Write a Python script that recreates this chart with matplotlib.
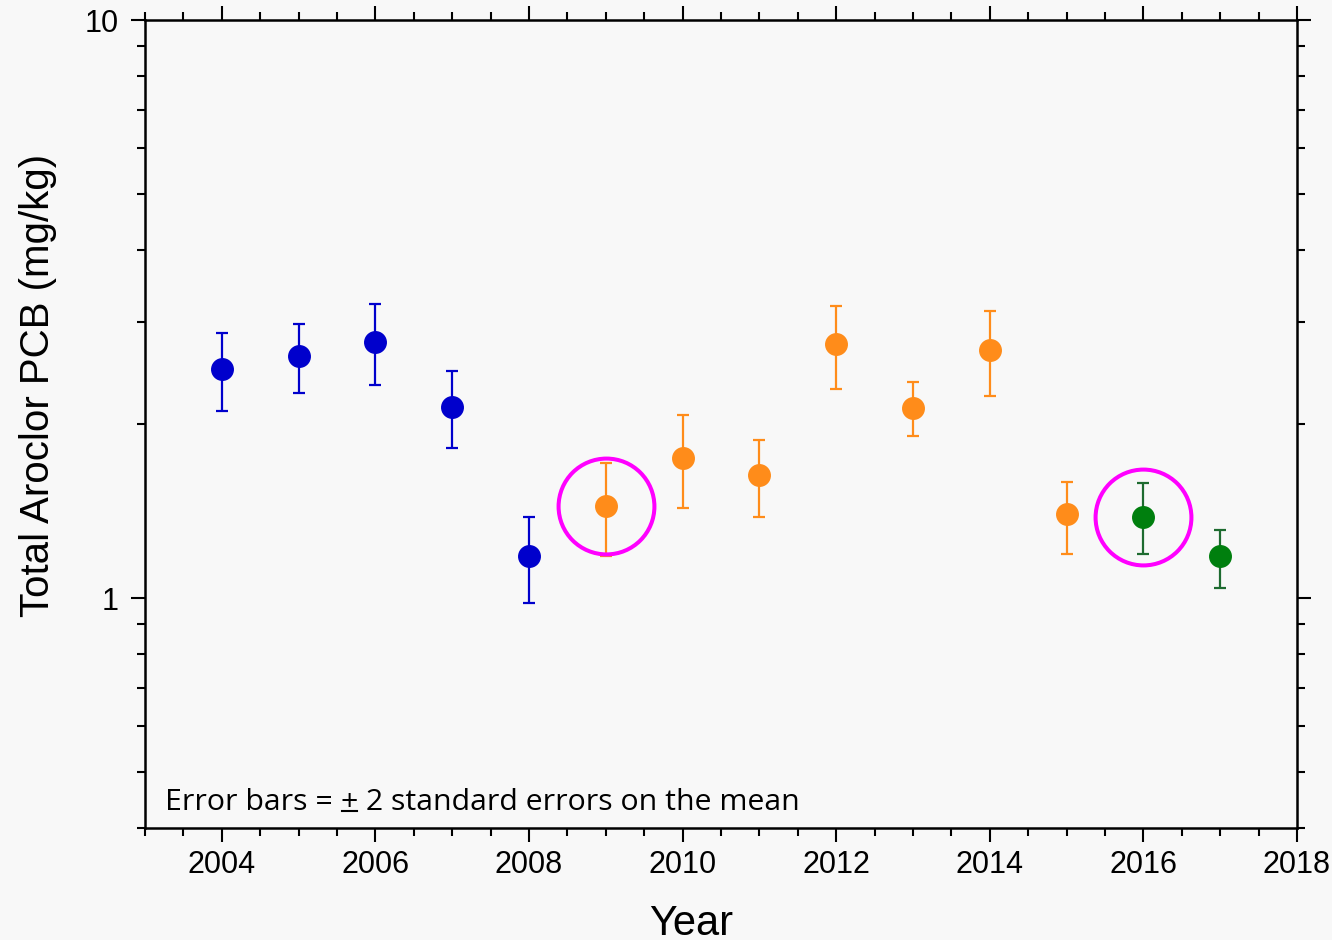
import matplotlib
matplotlib.use("Agg")
import matplotlib.pyplot as plt
from matplotlib.ticker import FixedLocator, NullFormatter, LogLocator
from matplotlib.lines import Line2D

plt.rcParams['font.family'] = ['Liberation Sans', 'DejaVu Sans']

# data (mg/kg)
years_blue = [2004, 2005, 2006, 2007, 2008]
mean_blue = [2.49, 2.62, 2.77, 2.14, 1.18]
lo_blue = [2.11, 2.26, 2.34, 1.82, 0.98]
hi_blue = [2.87, 2.98, 3.22, 2.47, 1.38]

years_orange = [2009, 2010, 2011, 2012, 2013, 2014, 2015]
mean_orange = [1.44, 1.75, 1.63, 2.75, 2.13, 2.69, 1.40]
lo_orange = [1.18, 1.43, 1.38, 2.30, 1.91, 2.24, 1.19]
hi_orange = [1.71, 2.07, 1.88, 3.20, 2.36, 3.14, 1.59]

years_green = [2016, 2017]
mean_green = [1.38, 1.18]
lo_green = [1.19, 1.04]
hi_green = [1.58, 1.31]

circled_years = [2009, 2016]
circled_vals = [1.44, 1.38]

bg = '#f8f8f8'
fig = plt.figure(figsize=(13.32, 9.40), dpi=100, facecolor=bg)
ax = fig.add_axes([0.1089, 0.1191, 0.8648, 0.8596], facecolor=bg)


def draw(years, mean, lo, hi, col, ecol):
    yerr = [[m - l for m, l in zip(mean, lo)], [h - m for m, h in zip(mean, hi)]]
    ax.errorbar(years, mean, yerr=yerr, fmt='o', color=col, ecolor=ecol,
                markersize=15.5, markerfacecolor=col, markeredgecolor=col,
                elinewidth=1.6, capsize=4.5, capthick=1.6, zorder=3)


draw(years_blue, mean_blue, lo_blue, hi_blue, '#0000cc', '#0000cc')
draw(years_orange, mean_orange, lo_orange, hi_orange, '#ff8c1a', '#ff8c1a')
draw(years_green, mean_green, lo_green, hi_green, '#007f0e', '#1e6b30')

ax.plot(circled_years, circled_vals, 'o', markersize=69, markerfacecolor='none',
        markeredgecolor='#ff00ff', markeredgewidth=2.9, zorder=4)

ax.set_yscale('log')
ax.set_xlim(2003, 2018)
ax.set_ylim(0.4, 10)

ax.xaxis.set_major_locator(FixedLocator(list(range(2004, 2019, 2))))
ax.xaxis.set_minor_locator(FixedLocator([2003 + 0.5 * i for i in range(31)]))
ax.set_xticklabels([str(y) for y in range(2004, 2019, 2)])
ax.yaxis.set_major_locator(FixedLocator([1, 10]))
ax.yaxis.set_minor_locator(LogLocator(base=10, subs=range(2, 10)))
ax.yaxis.set_minor_formatter(NullFormatter())
ax.set_yticklabels(['1', '10'])

ax.tick_params(which='both', direction='out', top=True, right=True,
               width=1.5, labelsize=22, colors='black')
ax.tick_params(which='major', length=10, pad=6)
ax.tick_params(axis='y', which='major', pad=9)
ax.tick_params(which='minor', length=5.5)
for s in ax.spines.values():
    s.set_linewidth(1.8)

ax.set_xlabel('Year', fontsize=30)
ax.xaxis.set_label_coords(0.474, -0.094)
ax.set_ylabel('Total Aroclor PCB (mg/kg)', fontsize=29)
ax.yaxis.set_label_coords(-0.0764, 0.548)

# note with an underlined plus sign
note_font = dict(fontsize=21.8, family=['Open Sans', 'DejaVu Sans'])
t1 = ax.text(0.0174, 0.022, 'Error bars = ', transform=ax.transAxes,
             va='baseline', ha='left', **note_font)
fig.canvas.draw()
r = fig.canvas.get_renderer()
t2 = ax.annotate('+', xy=(1, 0), xycoords=t1, va='bottom', ha='left', **note_font)
fig.canvas.draw()
bb2 = t2.get_window_extent(r)
t3 = ax.annotate(' 2 standard errors on the mean', xy=(1, 0), xycoords=t2,
                 va='bottom', ha='left', **note_font)
uy = bb2.y0 + bb2.height * 0.2
fig.add_artist(Line2D([bb2.x0 + 1, bb2.x1 - 1], [uy, uy], color='black',
                      linewidth=1.5, transform=None))

fig.savefig('out.png', dpi=100, facecolor=bg)
